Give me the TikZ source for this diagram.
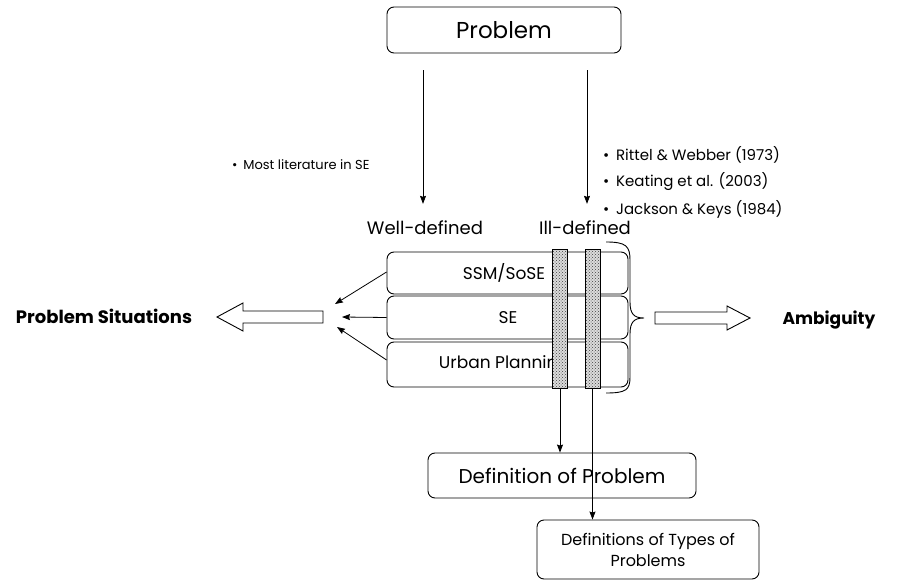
\documentclass[tikz,border=0pt]{standalone}
\usepackage{fontspec}
\setmainfont{Poppins}
\usetikzlibrary{arrows.meta,patterns}
\begin{document}
\begin{tikzpicture}[x=1pt,y=-1pt,
  box/.style={draw,line width=0.9pt,rounded corners=7pt,inner sep=0pt,align=center},
  lbl/.style={inner sep=0pt,font=\fontsize{18}{21}\selectfont},
  fld/.style={inner sep=0pt,font=\fontsize{17}{20}\selectfont},
  refs/.style={inner sep=0pt,anchor=west,font=\fontsize{15}{18}\selectfont},
  arr/.style={line width=0.8pt,-{Stealth[length=8pt,width=6pt,inset=1pt]}},
  strip/.style={draw,line width=0.9pt,inner sep=0pt,minimum width=14pt,minimum height=138pt},
  fat/.style={draw,line width=0.9pt,fill=white,line join=miter}
]
\useasboundingbox (0,0) rectangle (902,580);

% top problem box
\node[box,minimum width=234pt,minimum height=46pt,font=\fontsize{23}{26}\selectfont] (prob) at (504,30) {Problem};

% the two branches
\node[lbl] (well) at (425,228) {Well-defined};
\node[lbl] (ill) at (585,228) {Ill-defined};
\draw[arr,shorten <=17pt,shorten >=17pt] (prob.south -| 423,0) -- (423,0 |- well.north);
\draw[arr,shorten <=17pt,shorten >=17pt] (prob.south -| 587,0) -- (587,0 |- ill.north);

\node[refs,font=\fontsize{13}{16}\selectfont] (lit) at (232,165) {•\hspace{0.45em}Most literature in SE};
\node[refs] (r1) at (603,155) {•\hspace{0.45em}Rittel \& Webber (1973)};
\node[refs] (r2) at (603,182) {•\hspace{0.45em}Keating et al. (2003)};
\node[refs] (r3) at (603,209) {•\hspace{0.45em}Jackson \& Keys (1984)};

% stacked field boxes
\node[box,minimum width=241pt,minimum height=42pt] (b1) at (507.5,273) {};
\node[box,minimum width=241pt,minimum height=43pt] (b2) at (507.5,317.5) {};
\node[box,minimum width=241pt,minimum height=45pt] (b3) at (507.5,364.5) {};
\node[fld] (t1) at (504,273) {SSM/SoSE};
\node[fld] (t2) at (508,318) {SE};
\node[fld] (t3) at (504,364) {Urban Planning};

% ill-defined overlap strips
\node[strip] (s1) at (560,318.5) {};
\node[strip] (s2) at (592.5,318.5) {};
\foreach \s in {s1,s2}{
  \fill[gray!28] (\s.north west) rectangle (\s.south east);
  \fill[pattern=crosshatch dots,pattern color=black!75] (\s.north west) rectangle (\s.south east);
  \draw[line width=0.9pt] (\s.north west) rectangle (\s.south east);
}

% brace grouping the ill-defined side
\coordinate (brT) at (606,242);
\coordinate (brB) at (606,393);
\coordinate (brTip) at (644,318);
\draw[line width=0.9pt] (brT) .. controls (626,242) and (630,246) .. (630,260)
  -- (630,302) .. controls (630,314) and (634,318) .. (brTip)
  .. controls (634,318) and (630,322) .. (630,334)
  -- (630,377) .. controls (630,390) and (626,393) .. (brB);

% converging arrows towards problem situations
\coordinate (c1) at (335,304);
\coordinate (c2) at (342,317);
\coordinate (c3) at (337,327);
\draw[arr] (b1.west |- 0,272) -- (c1);
\draw[arr] (b2.west) -- (c2);
\draw[arr] (b3.west |- 0,360) -- (c3);

% hollow block arrows
\node[inner sep=0pt,font=\bfseries\fontsize{18}{21}\selectfont] (ps) at (104,316) {Problem Situations};
\node[inner sep=0pt,font=\bfseries\fontsize{17}{20}\selectfont] (amb) at (829,320) {Ambiguity};
\draw[fat] (323,311) -- (243,311) -- (243,303) -- (217,317) -- (243,331) -- (243,323) -- (323,323) -- cycle;
\draw[fat] (655,312) -- (727,312) -- (727,306) -- (750,318) -- (727,330) -- (727,324) -- (655,324) -- cycle;

% outcome boxes
\node[box,minimum width=268pt,minimum height=45pt,font=\fontsize{20}{23}\selectfont] (def) at (562,475.5) {Definition of Problem};
\draw[arr] (s1.south) -- (s1.south |- def.north);
\node[box,minimum width=222pt,minimum height=59pt,font=\fontsize{16}{21}\selectfont] (types) at (648,549.5) {Definitions of Types of\\Problems};
\draw[arr] (s2.south) -- (s2.south |- types.north);
\end{tikzpicture}
\end{document}
